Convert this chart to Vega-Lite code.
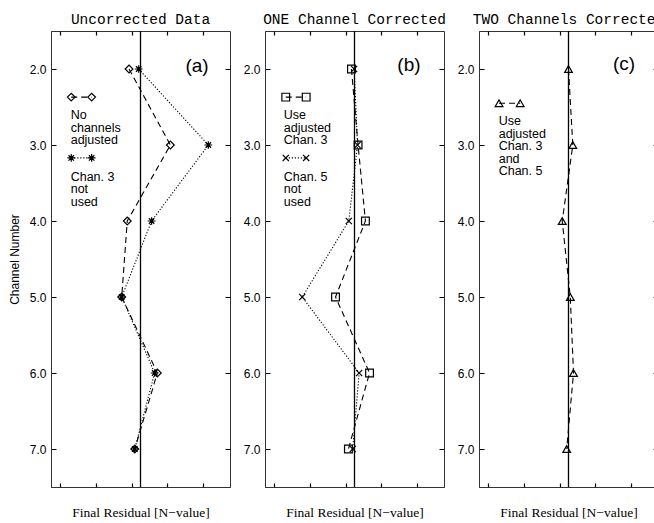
{
  "$schema": "https://vega.github.io/schema/vega-lite/v6.json",
  "background": "white",
  "padding": {"left": 7, "top": 11, "right": 5, "bottom": 0},
  "spacing": 35,
  "bounds": "flush",
  "datasets": {
    "pts": [
      {"panel": "a", "series": "none", "ch": 2, "r": -0.064},
      {"panel": "a", "series": "none", "ch": 3, "r": 0.167},
      {"panel": "a", "series": "none", "ch": 4, "r": -0.074},
      {"panel": "a", "series": "none", "ch": 5, "r": -0.105},
      {"panel": "a", "series": "none", "ch": 6, "r": 0.094},
      {"panel": "a", "series": "none", "ch": 7, "r": -0.032},
      {"panel": "a", "series": "no3", "ch": 2, "r": -0.01},
      {"panel": "a", "series": "no3", "ch": 3, "r": 0.379},
      {"panel": "a", "series": "no3", "ch": 4, "r": 0.062},
      {"panel": "a", "series": "no3", "ch": 5, "r": -0.105},
      {"panel": "a", "series": "no3", "ch": 6, "r": 0.079},
      {"panel": "a", "series": "no3", "ch": 7, "r": -0.032},
      {"panel": "b", "series": "adj3", "ch": 2, "r": -0.017},
      {"panel": "b", "series": "adj3", "ch": 3, "r": 0.02},
      {"panel": "b", "series": "adj3", "ch": 4, "r": 0.061},
      {"panel": "b", "series": "adj3", "ch": 5, "r": -0.106},
      {"panel": "b", "series": "adj3", "ch": 6, "r": 0.084},
      {"panel": "b", "series": "adj3", "ch": 7, "r": -0.034},
      {"panel": "b", "series": "no5", "ch": 2, "r": -0.002},
      {"panel": "b", "series": "no5", "ch": 3, "r": 0.017},
      {"panel": "b", "series": "no5", "ch": 4, "r": -0.032},
      {"panel": "b", "series": "no5", "ch": 5, "r": -0.292},
      {"panel": "b", "series": "no5", "ch": 6, "r": 0.026},
      {"panel": "b", "series": "no5", "ch": 7, "r": -0.01},
      {"panel": "c", "series": "adj35", "ch": 2, "r": 0.0},
      {"panel": "c", "series": "adj35", "ch": 3, "r": 0.024},
      {"panel": "c", "series": "adj35", "ch": 4, "r": -0.035},
      {"panel": "c", "series": "adj35", "ch": 5, "r": 0.01},
      {"panel": "c", "series": "adj35", "ch": 6, "r": 0.028},
      {"panel": "c", "series": "adj35", "ch": 7, "r": -0.01}
    ],
    "leg": [
      {"panel": "a", "series": "none", "x": -0.387, "y": 2.37},
      {"panel": "a", "series": "none", "x": -0.273, "y": 2.37},
      {"panel": "a", "series": "no3", "x": -0.387, "y": 3.17},
      {"panel": "a", "series": "no3", "x": -0.273, "y": 3.17},
      {"panel": "b", "series": "adj3", "x": -0.384, "y": 2.37},
      {"panel": "b", "series": "adj3", "x": -0.27, "y": 2.37},
      {"panel": "b", "series": "no5", "x": -0.384, "y": 3.17},
      {"panel": "b", "series": "no5", "x": -0.27, "y": 3.17},
      {"panel": "c", "series": "adj35", "x": -0.388, "y": 2.45},
      {"panel": "c", "series": "adj35", "x": -0.27, "y": 2.45}
    ],
    "notes": [
      {"panel": "a", "x": -0.39, "y": 2.53, "text": "No\nchannels\nadjusted"},
      {"panel": "a", "x": -0.39, "y": 3.34, "text": "Chan. 3\nnot\nused"},
      {"panel": "b", "x": -0.395, "y": 2.53, "text": "Use\nadjusted\nChan. 3"},
      {"panel": "b", "x": -0.395, "y": 3.34, "text": "Chan. 5\nnot\nused"},
      {"panel": "c", "x": -0.39, "y": 2.61, "text": "Use\nadjusted\nChan. 3\nand\nChan. 5"}
    ],
    "tags": [
      {"panel": "a", "x": 0.316, "y": 1.96, "text": "(a)"},
      {"panel": "b", "x": 0.304, "y": 1.95, "text": "(b)"},
      {"panel": "c", "x": 0.31, "y": 1.94, "text": "(c)"}
    ],
    "zero": [{"ref": 0}]
  },
  "hconcat": [
    {
      "width": 179, "height": 456,
      "title": {"text": "Uncorrected Data", "font": "Liberation Mono", "fontSize": 14.5, "fontWeight": "normal", "offset": 3, "color": "black"},
      "layer": [
        {"data": {"name": "pts"}, "transform": [{"filter": "datum.panel == 'a'"}],
         "mark": {"type": "line", "color": "black", "strokeWidth": 1.1},
         "encoding": {
           "x": {"field": "r", "type": "quantitative", "scale": {"domain": [-0.5, 0.5], "nice": false, "zero": false},
             "axis": {"orient": "bottom", "values": [-0.45,-0.4,-0.35,-0.3,-0.25,-0.2,-0.15,-0.1,-0.05,0,0.05,0.1,0.15,0.2,0.25,0.3,0.35,0.4,0.45], "format": ".1f",
               "labelExpr": "abs(round(datum.value*20)%4)==0 ? datum.label : ''",
               "ticks": false, "tickSize": 0, "domainColor": "#333",
               "grid": true, "gridColor": "black", "gridOpacity": 1, "gridWidth": 1.2,
               "gridDash": {"condition": {"test": "abs(round(datum.value*20)%4)==0", "value": [8, 440, 8, 1000]}, "value": [4, 448, 4, 1000]},
               "labelPadding": 6, "labelColor": "black", "labelFont": "Liberation Serif", "labelFontSize": 12.5, "labelOverlap": false, "labelFlush": false,
               "title": "Final Residual [N−value]", "titleColor": "black", "titleFont": "Liberation Serif", "titleFontSize": 13.5, "titleFontWeight": "normal", "titlePadding": 0}},
           "y": {"field": "ch", "type": "quantitative", "scale": {"domain": [1.5, 7.5], "nice": false, "zero": false, "reverse": true},
             "axis": {"orient": "left", "values": [2,3,4,5,6,7], "ticks": false, "tickSize": 0, "domainColor": "#333",
               "grid": true, "gridColor": "black", "gridOpacity": 1, "gridWidth": 1.2, "gridDash": [5, 169, 5, 1000],
               "labelPadding": 5, "labelColor": "black", "labelFont": "Liberation Sans", "labelFontSize": 12,
               "title": "Channel Number", "titleColor": "black", "titleFont": "Liberation Sans", "titleFontSize": 12, "titleFontWeight": "normal", "titlePadding": 8}},
           "detail": {"field": "series"},
           "order": {"field": "ch"},
           "strokeDash": {"field": "series", "type": "nominal", "legend": null,
             "scale": {"domain": ["none","no3","adj3","no5","adj35"], "range": [[6,4],[1.2,1.8],[6,4],[1.2,1.8],[6,4]]}}
         }},
        {"data": {"name": "zero"}, "mark": {"type": "rule", "color": "black", "strokeWidth": 1.3},
         "encoding": {"x": {"field": "ref", "type": "quantitative"}}},
        {"data": {"name": "pts"}, "transform": [{"filter": "datum.panel == 'a'"}],
         "mark": {"type": "point", "filled": false, "color": "black", "strokeWidth": 1.2, "size": 60, "opacity": 1},
         "encoding": {
           "x": {"field": "r", "type": "quantitative"},
           "y": {"field": "ch", "type": "quantitative"},
           "shape": {"field": "series", "type": "nominal", "legend": null,
             "scale": {"domain": ["none","no3","adj3","no5","adj35"], "range": ["diamond", "M-1,0L1,0M0,-1L0,1M-0.7,-0.7L0.7,0.7M-0.7,0.7L0.7,-0.7", "square", "M-0.8,-0.8L0.8,0.8M-0.8,0.8L0.8,-0.8", "triangle-up"]}}
         }},
        {"data": {"name": "leg"}, "transform": [{"filter": "datum.panel == 'a'"}],
         "mark": {"type": "line", "color": "black", "strokeWidth": 1.1},
         "encoding": {"x": {"field": "x", "type": "quantitative"}, "y": {"field": "y", "type": "quantitative"},
           "detail": {"field": "series"}, "strokeDash": {"field": "series", "type": "nominal", "legend": null}}},
        {"data": {"name": "leg"}, "transform": [{"filter": "datum.panel == 'a'"}],
         "mark": {"type": "point", "filled": false, "color": "black", "strokeWidth": 1.2, "size": 60, "opacity": 1},
         "encoding": {"x": {"field": "x", "type": "quantitative"}, "y": {"field": "y", "type": "quantitative"},
           "shape": {"field": "series", "type": "nominal", "legend": null}}},
        {"data": {"name": "notes"}, "transform": [{"filter": "datum.panel == 'a'"}],
         "mark": {"type": "text", "align": "left", "baseline": "top", "lineBreak": "\n", "lineHeight": 12.5, "font": "Liberation Sans", "fontSize": 12.5, "color": "black"},
         "encoding": {"x": {"field": "x", "type": "quantitative"}, "y": {"field": "y", "type": "quantitative"}, "text": {"field": "text"}}},
        {"data": {"name": "tags"}, "transform": [{"filter": "datum.panel == 'a'"}],
         "mark": {"type": "text", "align": "center", "baseline": "middle", "font": "Liberation Sans", "fontSize": 19, "color": "black"},
         "encoding": {"x": {"field": "x", "type": "quantitative"}, "y": {"field": "y", "type": "quantitative"}, "text": {"field": "text"}}}
      ]
    },
    {
      "width": 179, "height": 456,
      "title": {"text": "ONE Channel Corrected", "font": "Liberation Mono", "fontSize": 14.5, "fontWeight": "normal", "offset": 3, "color": "black"},
      "layer": [
        {"data": {"name": "pts"}, "transform": [{"filter": "datum.panel == 'b'"}],
         "mark": {"type": "line", "color": "black", "strokeWidth": 1.1},
         "encoding": {
           "x": {"field": "r", "type": "quantitative", "scale": {"domain": [-0.5, 0.5], "nice": false, "zero": false},
             "axis": {"orient": "bottom", "values": [-0.45,-0.4,-0.35,-0.3,-0.25,-0.2,-0.15,-0.1,-0.05,0,0.05,0.1,0.15,0.2,0.25,0.3,0.35,0.4,0.45], "format": ".1f",
               "labelExpr": "abs(round(datum.value*20)%4)==0 ? datum.label : ''",
               "ticks": false, "tickSize": 0, "domainColor": "#333",
               "grid": true, "gridColor": "black", "gridOpacity": 1, "gridWidth": 1.2,
               "gridDash": {"condition": {"test": "abs(round(datum.value*20)%4)==0", "value": [8, 440, 8, 1000]}, "value": [4, 448, 4, 1000]},
               "labelPadding": 6, "labelColor": "black", "labelFont": "Liberation Serif", "labelFontSize": 12.5, "labelOverlap": false, "labelFlush": false,
               "title": "Final Residual [N−value]", "titleColor": "black", "titleFont": "Liberation Serif", "titleFontSize": 13.5, "titleFontWeight": "normal", "titlePadding": 0}},
           "y": {"field": "ch", "type": "quantitative", "scale": {"domain": [1.5, 7.5], "nice": false, "zero": false, "reverse": true},
             "axis": {"orient": "left", "values": [2,3,4,5,6,7], "ticks": false, "tickSize": 0, "domainColor": "#333",
               "grid": true, "gridColor": "black", "gridOpacity": 1, "gridWidth": 1.2, "gridDash": [5, 169, 5, 1000],
               "labelPadding": 5, "labelColor": "black", "labelFont": "Liberation Sans", "labelFontSize": 12, "title": null}},
           "detail": {"field": "series"},
           "order": {"field": "ch"},
           "strokeDash": {"field": "series", "type": "nominal", "legend": null,
             "scale": {"domain": ["none","no3","adj3","no5","adj35"], "range": [[6,4],[1.2,1.8],[6,4],[1.2,1.8],[6,4]]}}
         }},
        {"data": {"name": "zero"}, "mark": {"type": "rule", "color": "black", "strokeWidth": 1.3},
         "encoding": {"x": {"field": "ref", "type": "quantitative"}}},
        {"data": {"name": "pts"}, "transform": [{"filter": "datum.panel == 'b'"}],
         "mark": {"type": "point", "filled": false, "color": "black", "strokeWidth": 1.2, "size": 60, "opacity": 1},
         "encoding": {
           "x": {"field": "r", "type": "quantitative"},
           "y": {"field": "ch", "type": "quantitative"},
           "shape": {"field": "series", "type": "nominal", "legend": null,
             "scale": {"domain": ["none","no3","adj3","no5","adj35"], "range": ["diamond", "M-1,0L1,0M0,-1L0,1M-0.7,-0.7L0.7,0.7M-0.7,0.7L0.7,-0.7", "square", "M-0.8,-0.8L0.8,0.8M-0.8,0.8L0.8,-0.8", "triangle-up"]}}
         }},
        {"data": {"name": "leg"}, "transform": [{"filter": "datum.panel == 'b'"}],
         "mark": {"type": "line", "color": "black", "strokeWidth": 1.1},
         "encoding": {"x": {"field": "x", "type": "quantitative"}, "y": {"field": "y", "type": "quantitative"},
           "detail": {"field": "series"}, "strokeDash": {"field": "series", "type": "nominal", "legend": null}}},
        {"data": {"name": "leg"}, "transform": [{"filter": "datum.panel == 'b'"}],
         "mark": {"type": "point", "filled": false, "color": "black", "strokeWidth": 1.2, "size": 60, "opacity": 1},
         "encoding": {"x": {"field": "x", "type": "quantitative"}, "y": {"field": "y", "type": "quantitative"},
           "shape": {"field": "series", "type": "nominal", "legend": null}}},
        {"data": {"name": "notes"}, "transform": [{"filter": "datum.panel == 'b'"}],
         "mark": {"type": "text", "align": "left", "baseline": "top", "lineBreak": "\n", "lineHeight": 12.5, "font": "Liberation Sans", "fontSize": 12.5, "color": "black"},
         "encoding": {"x": {"field": "x", "type": "quantitative"}, "y": {"field": "y", "type": "quantitative"}, "text": {"field": "text"}}},
        {"data": {"name": "tags"}, "transform": [{"filter": "datum.panel == 'b'"}],
         "mark": {"type": "text", "align": "center", "baseline": "middle", "font": "Liberation Sans", "fontSize": 19, "color": "black"},
         "encoding": {"x": {"field": "x", "type": "quantitative"}, "y": {"field": "y", "type": "quantitative"}, "text": {"field": "text"}}}
      ]
    },
    {
      "width": 179, "height": 456,
      "title": {"text": "TWO Channels Corrected", "font": "Liberation Mono", "fontSize": 14.5, "fontWeight": "normal", "offset": 3, "color": "black"},
      "layer": [
        {"data": {"name": "pts"}, "transform": [{"filter": "datum.panel == 'c'"}],
         "mark": {"type": "line", "color": "black", "strokeWidth": 1.1},
         "encoding": {
           "x": {"field": "r", "type": "quantitative", "scale": {"domain": [-0.5, 0.5], "nice": false, "zero": false},
             "axis": {"orient": "bottom", "values": [-0.45,-0.4,-0.35,-0.3,-0.25,-0.2,-0.15,-0.1,-0.05,0,0.05,0.1,0.15,0.2,0.25,0.3,0.35,0.4,0.45], "format": ".1f",
               "labelExpr": "abs(round(datum.value*20)%4)==0 ? datum.label : ''",
               "ticks": false, "tickSize": 0, "domainColor": "#333",
               "grid": true, "gridColor": "black", "gridOpacity": 1, "gridWidth": 1.2,
               "gridDash": {"condition": {"test": "abs(round(datum.value*20)%4)==0", "value": [8, 440, 8, 1000]}, "value": [4, 448, 4, 1000]},
               "labelPadding": 6, "labelColor": "black", "labelFont": "Liberation Serif", "labelFontSize": 12.5, "labelOverlap": false, "labelFlush": false,
               "title": "Final Residual [N−value]", "titleColor": "black", "titleFont": "Liberation Serif", "titleFontSize": 13.5, "titleFontWeight": "normal", "titlePadding": 0}},
           "y": {"field": "ch", "type": "quantitative", "scale": {"domain": [1.5, 7.5], "nice": false, "zero": false, "reverse": true},
             "axis": {"orient": "left", "values": [2,3,4,5,6,7], "ticks": false, "tickSize": 0, "domainColor": "#333",
               "grid": true, "gridColor": "black", "gridOpacity": 1, "gridWidth": 1.2, "gridDash": [5, 169, 5, 1000],
               "labelPadding": 5, "labelColor": "black", "labelFont": "Liberation Sans", "labelFontSize": 12, "title": null}},
           "detail": {"field": "series"},
           "order": {"field": "ch"},
           "strokeDash": {"field": "series", "type": "nominal", "legend": null,
             "scale": {"domain": ["none","no3","adj3","no5","adj35"], "range": [[6,4],[1.2,1.8],[6,4],[1.2,1.8],[6,4]]}}
         }},
        {"data": {"name": "zero"}, "mark": {"type": "rule", "color": "black", "strokeWidth": 1.3},
         "encoding": {"x": {"field": "ref", "type": "quantitative"}}},
        {"data": {"name": "pts"}, "transform": [{"filter": "datum.panel == 'c'"}],
         "mark": {"type": "point", "filled": false, "color": "black", "strokeWidth": 1.2, "size": 60, "opacity": 1},
         "encoding": {
           "x": {"field": "r", "type": "quantitative"},
           "y": {"field": "ch", "type": "quantitative"},
           "shape": {"field": "series", "type": "nominal", "legend": null,
             "scale": {"domain": ["none","no3","adj3","no5","adj35"], "range": ["diamond", "M-1,0L1,0M0,-1L0,1M-0.7,-0.7L0.7,0.7M-0.7,0.7L0.7,-0.7", "square", "M-0.8,-0.8L0.8,0.8M-0.8,0.8L0.8,-0.8", "triangle-up"]}}
         }},
        {"data": {"name": "leg"}, "transform": [{"filter": "datum.panel == 'c'"}],
         "mark": {"type": "line", "color": "black", "strokeWidth": 1.1},
         "encoding": {"x": {"field": "x", "type": "quantitative"}, "y": {"field": "y", "type": "quantitative"},
           "detail": {"field": "series"}, "strokeDash": {"field": "series", "type": "nominal", "legend": null}}},
        {"data": {"name": "leg"}, "transform": [{"filter": "datum.panel == 'c'"}],
         "mark": {"type": "point", "filled": false, "color": "black", "strokeWidth": 1.2, "size": 60, "opacity": 1},
         "encoding": {"x": {"field": "x", "type": "quantitative"}, "y": {"field": "y", "type": "quantitative"},
           "shape": {"field": "series", "type": "nominal", "legend": null}}},
        {"data": {"name": "notes"}, "transform": [{"filter": "datum.panel == 'c'"}],
         "mark": {"type": "text", "align": "left", "baseline": "top", "lineBreak": "\n", "lineHeight": 12.5, "font": "Liberation Sans", "fontSize": 12.5, "color": "black"},
         "encoding": {"x": {"field": "x", "type": "quantitative"}, "y": {"field": "y", "type": "quantitative"}, "text": {"field": "text"}}},
        {"data": {"name": "tags"}, "transform": [{"filter": "datum.panel == 'c'"}],
         "mark": {"type": "text", "align": "center", "baseline": "middle", "font": "Liberation Sans", "fontSize": 19, "color": "black"},
         "encoding": {"x": {"field": "x", "type": "quantitative"}, "y": {"field": "y", "type": "quantitative"}, "text": {"field": "text"}}}
      ]
    }
  ],
  "config": {
    "view": {"stroke": "#333", "strokeWidth": 1}
  }
}
